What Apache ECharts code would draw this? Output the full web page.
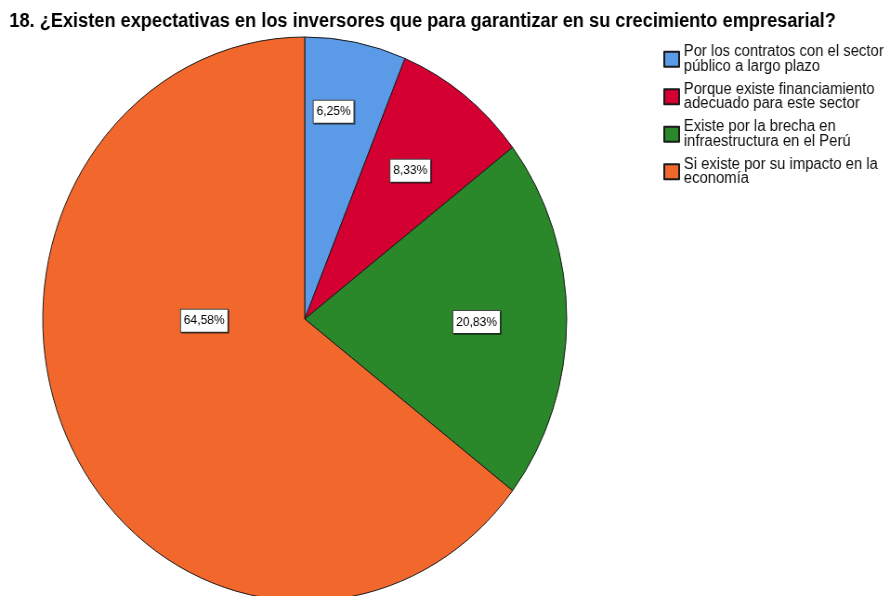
<!DOCTYPE html>
<html>
<head>
<meta charset="utf-8">
<script src="https://cdn.jsdelivr.net/npm/echarts@6/dist/echarts.min.js"></script>
<style>
  html, body { margin: 0; padding: 0; background: #fff; overflow: hidden; }
  /* the reference is squeezed horizontally, so draw wider and scale back */
  #chart {
    width: 955px;
    height: 596px;
    transform: scaleX(0.929);
    transform-origin: 0 0;
  }
</style>
</head>
<body>
<div id="chart"></div>
<script>
const categories = [
  'Por los contratos con el sector\npúblico a largo plazo',
  'Porque existe financiamiento\nadecuado para este sector',
  'Existe por la brecha en\ninfraestructura en el Perú',
  'Si existe por su impacto en la\neconomía'
]
// frecuencias (n = 48)
const counts = [3, 4, 10, 31]
const colors = ['#5a9ae6', '#d50032', '#2a872a', '#f2682c']
// nudges for the value boxes, in px
const labelNudge = [[3, -66], [26, -34], [41, 3], [21, -62]]

const total = counts.reduce((a, b) => a + b, 0)

const chart = echarts.init(document.getElementById('chart'))

chart.setOption({
  animation: false,
  title: {
    text: '18. ¿Existen expectativas en los inversores que para garantizar en su crecimiento empresarial?',
    left: 10,
    top: 12,
    padding: 0,
    textStyle: {
      fontFamily: 'Liberation Sans, Arial, sans-serif',
      fontSize: 19.6,
      fontWeight: 'bold',
      color: '#000'
    }
  },
  legend: {
    orient: 'vertical',
    left: 714,
    top: 44,
    padding: 0,
    itemGap: 7,
    itemWidth: 16,
    itemHeight: 15,
    icon: 'rect',
    selectedMode: false,
    textStyle: {
      fontFamily: 'Liberation Sans, Arial, sans-serif',
      fontSize: 16,
      lineHeight: 14.5,
      color: '#111'
    },
    data: categories
  },
  series: [{
    type: 'pie',
    center: [328, 319],
    radius: 282,
    startAngle: 90,
    clockwise: true,
    emphasis: { disabled: true },
    itemStyle: { borderColor: '#1a1a1a', borderWidth: 1 },
    label: {
      show: true,
      position: 'inside',
      formatter: p => (p.value / total * 100).toFixed(2).replace('.', ',') + '%',
      fontFamily: 'Liberation Sans, Arial, sans-serif',
      fontSize: 13,
      lineHeight: 13,
      color: '#000',
      backgroundColor: '#fff',
      borderColor: '#444',
      borderWidth: 1,
      padding: [5, 3, 4, 3],
      shadowColor: 'rgba(0,0,0,0.45)',
      shadowOffsetX: 1,
      shadowOffsetY: 1
    },
    labelLayout: p => ({ dx: labelNudge[p.dataIndex][0], dy: labelNudge[p.dataIndex][1] }),
    data: categories.map((name, i) => ({
      name,
      value: counts[i],
      itemStyle: { color: colors[i] }
    }))
  }]
})
</script>
</body>
</html>
